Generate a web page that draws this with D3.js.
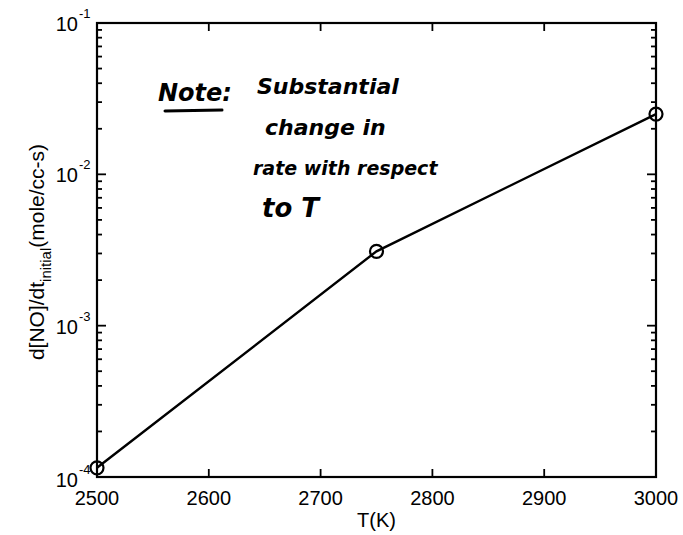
<!DOCTYPE html>
<html><head><meta charset="utf-8">
<script src="https://cdn.jsdelivr.net/npm/d3@7"></script>
<style>body{margin:0;background:#fff}svg{display:block}</style>
</head><body>
<script>
const temps = [2500, 2750, 3000];
const rates = [1.15e-4, 3.1e-3, 2.5e-2];
const xTicks = [2500, 2600, 2700, 2800, 2900, 3000];
const yDecades = [-4, -3, -2, -1];
const noteLines = ["Substantial", "change in", "rate with respect", "to T"];

const W = 683, H = 535;
const m = {l: 97, r: 27, t: 23, b: 58};
const svg = d3.select("body").append("svg").attr("width", W).attr("height", H);
const x = d3.scaleLinear().domain([2500, 3000]).range([m.l, W - m.r]);
const y = d3.scaleLog().domain([1e-4, 1e-1]).range([H - m.b, m.t]);
const font = "Liberation Sans, Arial, Helvetica, sans-serif";

const g = svg.append("g");
g.append("rect").attr("x", m.l).attr("y", m.t).attr("width", x(3000) - m.l).attr("height", y(1e-4) - m.t)
  .attr("fill", "none").attr("stroke", "#000").attr("stroke-width", 2.2);

xTicks.forEach(t => {
  g.append("line").attr("x1", x(t)).attr("x2", x(t)).attr("y1", y(1e-4)).attr("y2", y(1e-4) - 8).attr("stroke", "#000").attr("stroke-width", 1.8);
  g.append("line").attr("x1", x(t)).attr("x2", x(t)).attr("y1", m.t).attr("y2", m.t + 8).attr("stroke", "#000").attr("stroke-width", 1.8);
  g.append("text").attr("x", x(t)).attr("y", y(1e-4) + 28).attr("text-anchor", "middle")
    .attr("font-family", font).attr("font-size", 20).text(t);
});

const minor = [];
for (let d = -4; d < -1; d++) for (let k = 2; k <= 9; k++) minor.push(k * Math.pow(10, d));
minor.forEach(v => {
  [[m.l, 1], [x(3000), -1]].forEach(([x0, s]) => {
    g.append("line").attr("x1", x0).attr("x2", x0 + s * 5).attr("y1", y(v)).attr("y2", y(v)).attr("stroke", "#000").attr("stroke-width", 1.8);
  });
});
yDecades.forEach(d => {
  const v = Math.pow(10, d);
  [[m.l, 1], [x(3000), -1]].forEach(([x0, s]) => {
    g.append("line").attr("x1", x0).attr("x2", x0 + s * 9).attr("y1", y(v)).attr("y2", y(v)).attr("stroke", "#000").attr("stroke-width", 1.8);
  });
  const base = d === -4 ? y(v) + 10 : y(v) + 8;
  g.append("text").attr("x", 78).attr("y", base).attr("text-anchor", "end")
    .attr("font-family", font).attr("font-size", 20).text("10");
  g.append("text").attr("x", 79).attr("y", base - 13).attr("text-anchor", "start")
    .attr("font-family", font).attr("font-size", 13).text(d);
});

const line = d3.line().x((d, i) => x(temps[i])).y(d => y(d));
g.append("path").datum(rates).attr("d", line).attr("fill", "none").attr("stroke", "#000").attr("stroke-width", 2.4);
g.selectAll("circle.pt").data(rates).join("circle").attr("class", "pt")
  .attr("cx", (d, i) => x(temps[i])).attr("cy", d => y(d)).attr("r", 6.5)
  .attr("fill", "none").attr("stroke", "#000").attr("stroke-width", 2.2);

svg.append("text").attr("x", (m.l + x(3000)) / 2).attr("y", 527).attr("text-anchor", "middle")
  .attr("font-family", font).attr("font-size", 20).text("T(K)");
const yl = svg.append("text").attr("transform", "translate(44,252) rotate(-90)").attr("text-anchor", "middle")
  .attr("font-family", font).attr("font-size", 21);
yl.append("tspan").text("d[NO]/dt");
yl.append("tspan").attr("dy", 7).attr("font-size", 15).text("initial");
yl.append("tspan").attr("dy", -7).text("(mole/cc-s)");

const hf = "DejaVu Sans, sans-serif";
svg.append("text").attr("x", 158).attr("y", 101).attr("font-family", hf).attr("font-weight", "bold")
  .attr("font-style", "italic").attr("font-size", 24).text("Note:");
svg.append("line").attr("x1", 165).attr("x2", 222).attr("y1", 111).attr("y2", 110).attr("stroke", "#000").attr("stroke-width", 3).attr("stroke-linecap", "round");
const ny = [94, 135, 175, 217];
const nx = [257, 265, 253, 262];
const nsz = [22, 22, 19, 26];
noteLines.forEach((s, i) => {
  svg.append("text").attr("x", nx[i]).attr("y", ny[i]).attr("font-family", hf).attr("font-weight", "bold")
    .attr("font-style", "italic").attr("font-size", nsz[i]).text(s);
});
</script>
</body></html>
